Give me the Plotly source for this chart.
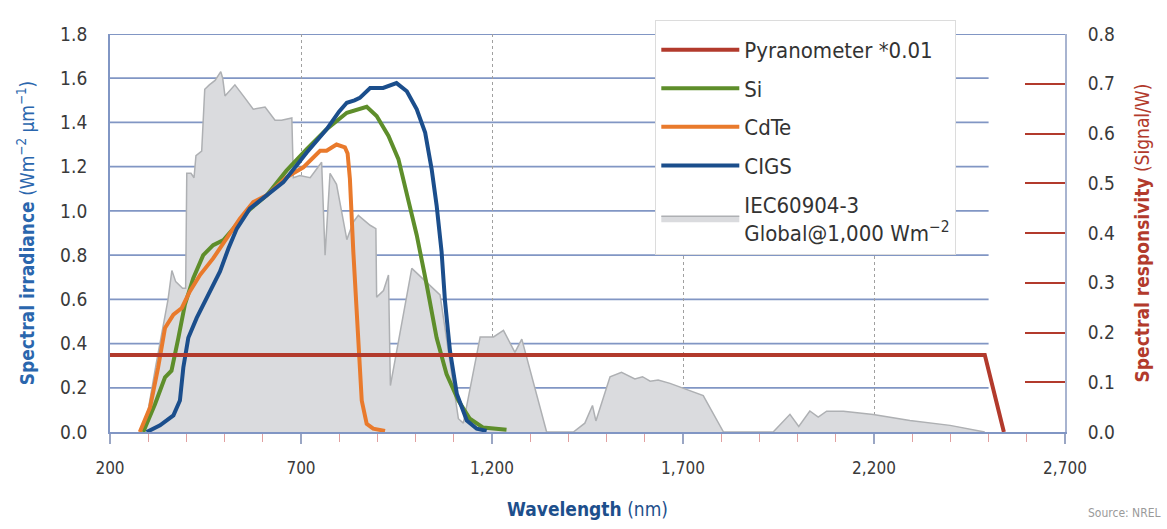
import plotly.graph_objects as go

# ---------------- data ----------------
# IEC60904-3 global spectrum (left axis)
iec_nm = [280, 300, 320, 340, 352, 362, 372, 390, 398, 401, 412, 420, 425, 440, 448, 460, 475,
          490, 495, 501, 527, 549, 575, 606, 632, 649, 676, 680, 697, 724, 740, 754, 763, 776,
          793, 820, 837, 850, 881, 896, 898, 916, 929, 934, 990, 1046, 1064, 1112, 1125, 1169,
          1204, 1230, 1260, 1278, 1343, 1413, 1443, 1463, 1472, 1509, 1539, 1574, 1594, 1614,
          1635, 1666, 1696, 1753, 1806, 1936, 1980, 2003, 2032, 2054, 2076, 2120, 2198, 2294,
          2399, 2460, 2490]
iec_val = [0.0, 0.1, 0.3, 0.49, 0.6, 0.73, 0.68, 0.65, 0.65, 1.17, 1.17, 1.15, 1.25, 1.27, 1.55,
           1.57, 1.59, 1.63, 1.6, 1.52, 1.57, 1.52, 1.46, 1.47, 1.41, 1.41, 1.42, 1.15, 1.16, 1.15,
           1.19, 1.22, 0.80, 1.17, 1.12, 0.87, 0.95, 0.98, 0.935, 0.92, 0.61, 0.64, 0.71, 0.21,
           0.74, 0.65, 0.62, 0.06, 0.04, 0.43, 0.43, 0.46, 0.36, 0.42, 0.0, 0.0, 0.04, 0.12, 0.05,
           0.25, 0.27, 0.24, 0.25, 0.23, 0.235, 0.22, 0.2, 0.165, 0.0, 0.0, 0.08, 0.025, 0.095,
           0.067, 0.094, 0.094, 0.079, 0.052, 0.03, 0.01, 0.0]

# Si
si_nm = [287, 318, 344, 361, 379, 396, 418, 444, 470, 497, 523, 558, 610, 662, 715, 767, 820,
         850, 872, 898, 929, 955, 977, 1003, 1029, 1055, 1081, 1112, 1142, 1177, 1238]
si_val = [0.0, 0.127, 0.247, 0.277, 0.426, 0.576, 0.696, 0.80, 0.845, 0.868, 0.92, 0.995, 1.07,
          1.182, 1.279, 1.369, 1.444, 1.462, 1.471, 1.429, 1.339, 1.234, 1.07, 0.89, 0.666,
          0.426, 0.262, 0.142, 0.06, 0.02, 0.01]

# CdTe
cdte_nm = [278, 305, 326, 344, 366, 388, 409, 436, 470, 505, 540, 575, 610, 662, 706, 750, 767,
           793, 815, 822, 828, 837, 850, 859, 872, 889, 920]
cdte_val = [0.0, 0.112, 0.292, 0.471, 0.531, 0.561, 0.636, 0.711, 0.785, 0.875, 0.965, 1.04,
            1.07, 1.152, 1.197, 1.272, 1.272, 1.30, 1.287, 1.26, 1.145, 0.815, 0.367, 0.142,
            0.037, 0.015, 0.005]

# CIGS
cigs_nm = [296, 331, 366, 383, 392, 405, 427, 462, 488, 510, 532, 566, 610, 654, 715, 767, 800,
           820, 840, 854, 881, 915, 950, 977, 1003, 1025, 1042, 1055, 1068, 1077, 1090, 1108,
           1134, 1160, 1186]
cigs_val = [0.0, 0.03, 0.075, 0.142, 0.292, 0.426, 0.516, 0.636, 0.726, 0.83, 0.92, 1.01, 1.07,
            1.13, 1.264, 1.369, 1.45, 1.489, 1.50, 1.511, 1.556, 1.556, 1.578, 1.541, 1.459,
            1.354, 1.189, 1.025, 0.815, 0.591, 0.367, 0.172, 0.052, 0.015, 0.005]

# Pyranometer *0.01 (right axis, Signal/W)
pyr_nm = [200, 2490, 2540]
pyr_val = [0.155, 0.155, 0.0]

x_ticks = [200, 700, 1200, 1700, 2200, 2700]
y_ticks = [0.0, 0.2, 0.4, 0.6, 0.8, 1.0, 1.2, 1.4, 1.6, 1.8]
y2_ticks = [0.0, 0.1, 0.2, 0.3, 0.4, 0.5, 0.6, 0.7, 0.8]

# ---------------- styling ----------------
FONT = "DejaVu Sans Condensed, Liberation Sans Narrow, Arial Narrow, sans-serif"
RED = "#b23a2c"
GREEN = "#5e8e2b"
ORANGE = "#e97a2c"
BLUE = "#1b4e8c"
GRID = "#8196c4"
TXT = "#3a3a3a"

fig = go.Figure()

fig.add_trace(go.Scatter(
    x=iec_nm, y=iec_val, name="IEC60904-3<br>Global@1,000 Wm<sup>−2</sup>",
    mode="lines", fill="tozeroy", fillcolor="#dadbde",
    line=dict(color="#aeb0b3", width=1.5), legendrank=5, legendgroup="e"))

for nm, val, name, col, rank, g in [
    (si_nm, si_val, "Si", GREEN, 2, "b"),
    (cdte_nm, cdte_val, "CdTe", ORANGE, 3, "c"),
    (cigs_nm, cigs_val, "CIGS", BLUE, 4, "d"),
]:
    fig.add_trace(go.Scatter(x=nm, y=val, name=name, mode="lines",
                             line=dict(color=col, width=4), legendrank=rank, legendgroup=g))

fig.add_trace(go.Scatter(
    x=pyr_nm, y=pyr_val, name="Pyranometer *0.01", mode="lines", yaxis="y2",
    line=dict(color=RED, width=4), legendrank=1, legendgroup="a"))

# horizontal gridlines (stop at 2,500 nm; top frame line runs full width)
shapes = []
for v in y_ticks[1:]:
    shapes.append(dict(type="line", xref="x", yref="y", x0=200,
                       x1=2700 if v == y_ticks[-1] else 2500, y0=v, y1=v,
                       line=dict(color=GRID, width=1.8), layer="below"))

fig.update_layout(
    width=1167, height=529,
    margin=dict(l=110, r=102, t=34, b=94),
    paper_bgcolor="white", plot_bgcolor="white",
    font=dict(family=FONT, color=TXT, size=18),
    shapes=shapes,
    showlegend=True,
    legend=dict(
        x=0.571, y=1.035, xanchor="left", yanchor="top",
        bgcolor="white", bordercolor="#dcdcdc", borderwidth=1,
        font=dict(family=FONT, size=22, color="#333333"),
        title=dict(text="\u00a0", font=dict(size=6)),
        tracegroupgap=7, itemwidth=78,
    ),
    xaxis=dict(
        range=[200, 2700], tickvals=x_ticks, tickformat=",",
        showline=True, linecolor=GRID, linewidth=1.8,
        ticks="outside", ticklen=10, tickcolor="#9aa6c4", tickwidth=1.5,
        showgrid=True, gridcolor="#a0a0a0", griddash="dot", gridwidth=1,
        zeroline=False, ticklabelstandoff=10,
        tickfont=dict(size=17, color=TXT),
        minor=dict(dtick=100, ticks="outside", ticklen=8, tickcolor="#e0a0a0",
                   tickwidth=1, showgrid=False),
        title=dict(text="<b>Wavelength</b> (nm)", font=dict(size=19, color="#1d4f8c"),
                   standoff=25),
    ),
    yaxis=dict(
        range=[0, 1.8], tickvals=y_ticks, tickformat=".1f",
        showline=True, linecolor=GRID, linewidth=1.8,
        ticks="", showgrid=False, zeroline=False, ticklabelstandoff=17,
        tickfont=dict(size=19, color=TXT),
        title=dict(text="<b>Spectral irradiance</b> (Wm<sup>−2</sup> µm<sup>−1</sup>)",
                   font=dict(size=19, color="#2a66ad"), standoff=20),
    ),
    yaxis2=dict(
        range=[0, 0.8], tickvals=y2_ticks, tickformat=".1f",
        overlaying="y", side="right",
        showline=True, linecolor="#a8b4d0", linewidth=1.8,
        ticks="inside", ticklen=40, tickcolor=RED, tickwidth=2,
        showgrid=False, zeroline=False, ticklabelstandoff=17,
        tickfont=dict(size=19, color=TXT),
        title=dict(text="<b>Spectral responsivity</b> (Signal/W)",
                   font=dict(size=19, color=RED), standoff=22),
    ),
    annotations=[dict(text="Source: NREL", xref="paper", yref="paper",
                      x=1.103, y=-0.204, xanchor="right", yanchor="middle",
                      showarrow=False, font=dict(size=12, color="#9a9a9a", family=FONT))],
)

fig.write_html("out.html", config={"displayModeBar": False},
               post_script="document.body.style.margin='0';")
